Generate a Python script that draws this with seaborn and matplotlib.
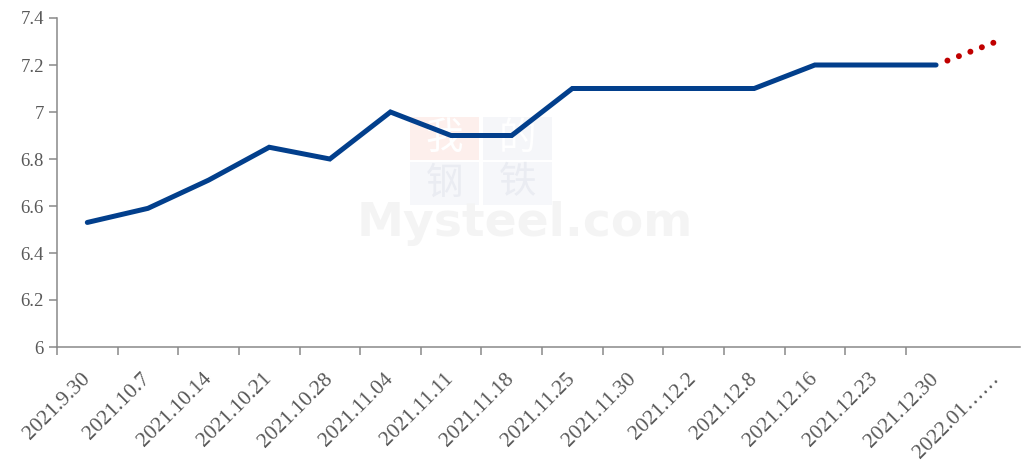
import matplotlib
matplotlib.use("Agg")
import matplotlib.pyplot as plt
import matplotlib.transforms as mtransforms
from matplotlib.patches import Rectangle
import seaborn as sns
import pandas as pd
import numpy as np

categories = ["2021.9.30", "2021.10.7", "2021.10.14", "2021.10.21", "2021.10.28",
              "2021.11.04", "2021.11.11", "2021.11.18", "2021.11.25", "2021.11.30",
              "2021.12.2", "2021.12.8", "2021.12.16", "2021.12.23", "2021.12.30",
              "2022.01……"]
actual = [6.53, 6.59, 6.71, 6.85, 6.80, 7.00, 6.90, 6.90, 7.10, 7.10, 7.10, 7.10,
          7.20, 7.20, 7.20]
forecast_labels = ["2021.12.30", "2022.01……"]
forecast = [7.20, 7.30]
yticks = [6, 6.2, 6.4, 6.6, 6.8, 7, 7.2, 7.4]
ytick_labels = ["6", "6.2", "6.4", "6.6", "6.8", "7", "7.2", "7.4"]

sns.set_theme(style="white")
plt.rcParams["font.family"] = ["Liberation Serif", "DejaVu Serif"]

df_a = pd.DataFrame({"pos": np.arange(len(actual)), "val": actual})
df_f = pd.DataFrame({"pos": [categories.index(c) for c in forecast_labels], "val": forecast})

W, H = 1027, 468
fig = plt.figure(figsize=(W / 100, H / 100), dpi=100)
ax = fig.add_axes([57 / W, 1 - 347 / H, (W - 57) / W, (347 - 18) / H])

grey = "#898989"
txt = "#595959"

# watermark (figure pixel coords converted to figure fraction), drawn under the data
def fx(px):
    return px / W

def fy(py):
    return 1 - py / H

wm = [("我", 410, 117, "#fdefec", "#ffffff"),
      ("的", 483, 117, "#f5f6f9", "#ffffff"),
      ("钢", 410, 162, "#f6f7fa", "#eaecf2"),
      ("铁", 483, 162, "#f6f7fa", "#eaecf2")]
for ch, x0, y0, bc, cc in wm:
    ax.add_patch(Rectangle((fx(x0), fy(y0 + 43)), 69 / W, 43 / H,
                           transform=fig.transFigure, facecolor=bc,
                           edgecolor="none", zorder=0.1, clip_on=False))
    ax.text(fx(x0 + 34.5), fy(y0 + 21), ch, ha="center", va="center",
            fontsize=27, color=cc, family="Noto Sans CJK SC", zorder=0.2,
            transform=fig.transFigure)
ax.text(fx(525), fy(223), "Mysteel.com", ha="center", va="center",
        fontsize=34, fontweight="bold", color="#f4f4f4", family="DejaVu Sans",
        zorder=0.2, transform=fig.transFigure)

sns.lineplot(data=df_f, x="pos", y="val", ax=ax, color="#C00000", linewidth=4.3,
             dashes=False, zorder=2)
ax.lines[-1].set_linestyle((0.02, (0.01, 2.05)))
ax.lines[-1].set_dash_capstyle("round")
sns.lineplot(data=df_a, x="pos", y="val", ax=ax, color="#023F8C", linewidth=3.6,
             zorder=3)
ax.lines[-1].set_solid_capstyle("round")
ax.lines[-1].set_solid_joinstyle("miter")

ax.set_xlim(-0.5, len(categories) - 0.5)
ax.set_ylim(6, 7.4)
ax.set_xlabel("")
ax.set_ylabel("")

ax.set_xticks(np.arange(len(categories)))
ax.set_xticklabels(categories, rotation=45, ha="right", va="center",
                   rotation_mode="anchor", color=txt, fontsize=15.5)
offset = mtransforms.ScaledTranslation(5 / 100, 0, fig.dpi_scale_trans)
for lab in ax.get_xticklabels():
    lab.set_transform(lab.get_transform() + offset)
ax.set_xticks(np.arange(len(categories) - 1) - 0.5, minor=True)
ax.tick_params(axis="x", which="major", length=0, pad=21)
ax.tick_params(axis="x", which="minor", length=6, width=1.1, color=grey, bottom=True)
ax.set_yticks(yticks)
ax.set_yticklabels(ytick_labels, color=txt, fontsize=13.5)
ax.tick_params(axis="y", length=5.5, width=1.1, color=grey, left=True, pad=4)

for s in ["top", "right"]:
    ax.spines[s].set_visible(False)
for s in ["left", "bottom"]:
    ax.spines[s].set_color(grey)
    ax.spines[s].set_linewidth(1.1)
ax.spines["bottom"].set_bounds(-0.5, len(categories) - 0.62)
ax.grid(False)

fig.savefig("out.png", dpi=100)
